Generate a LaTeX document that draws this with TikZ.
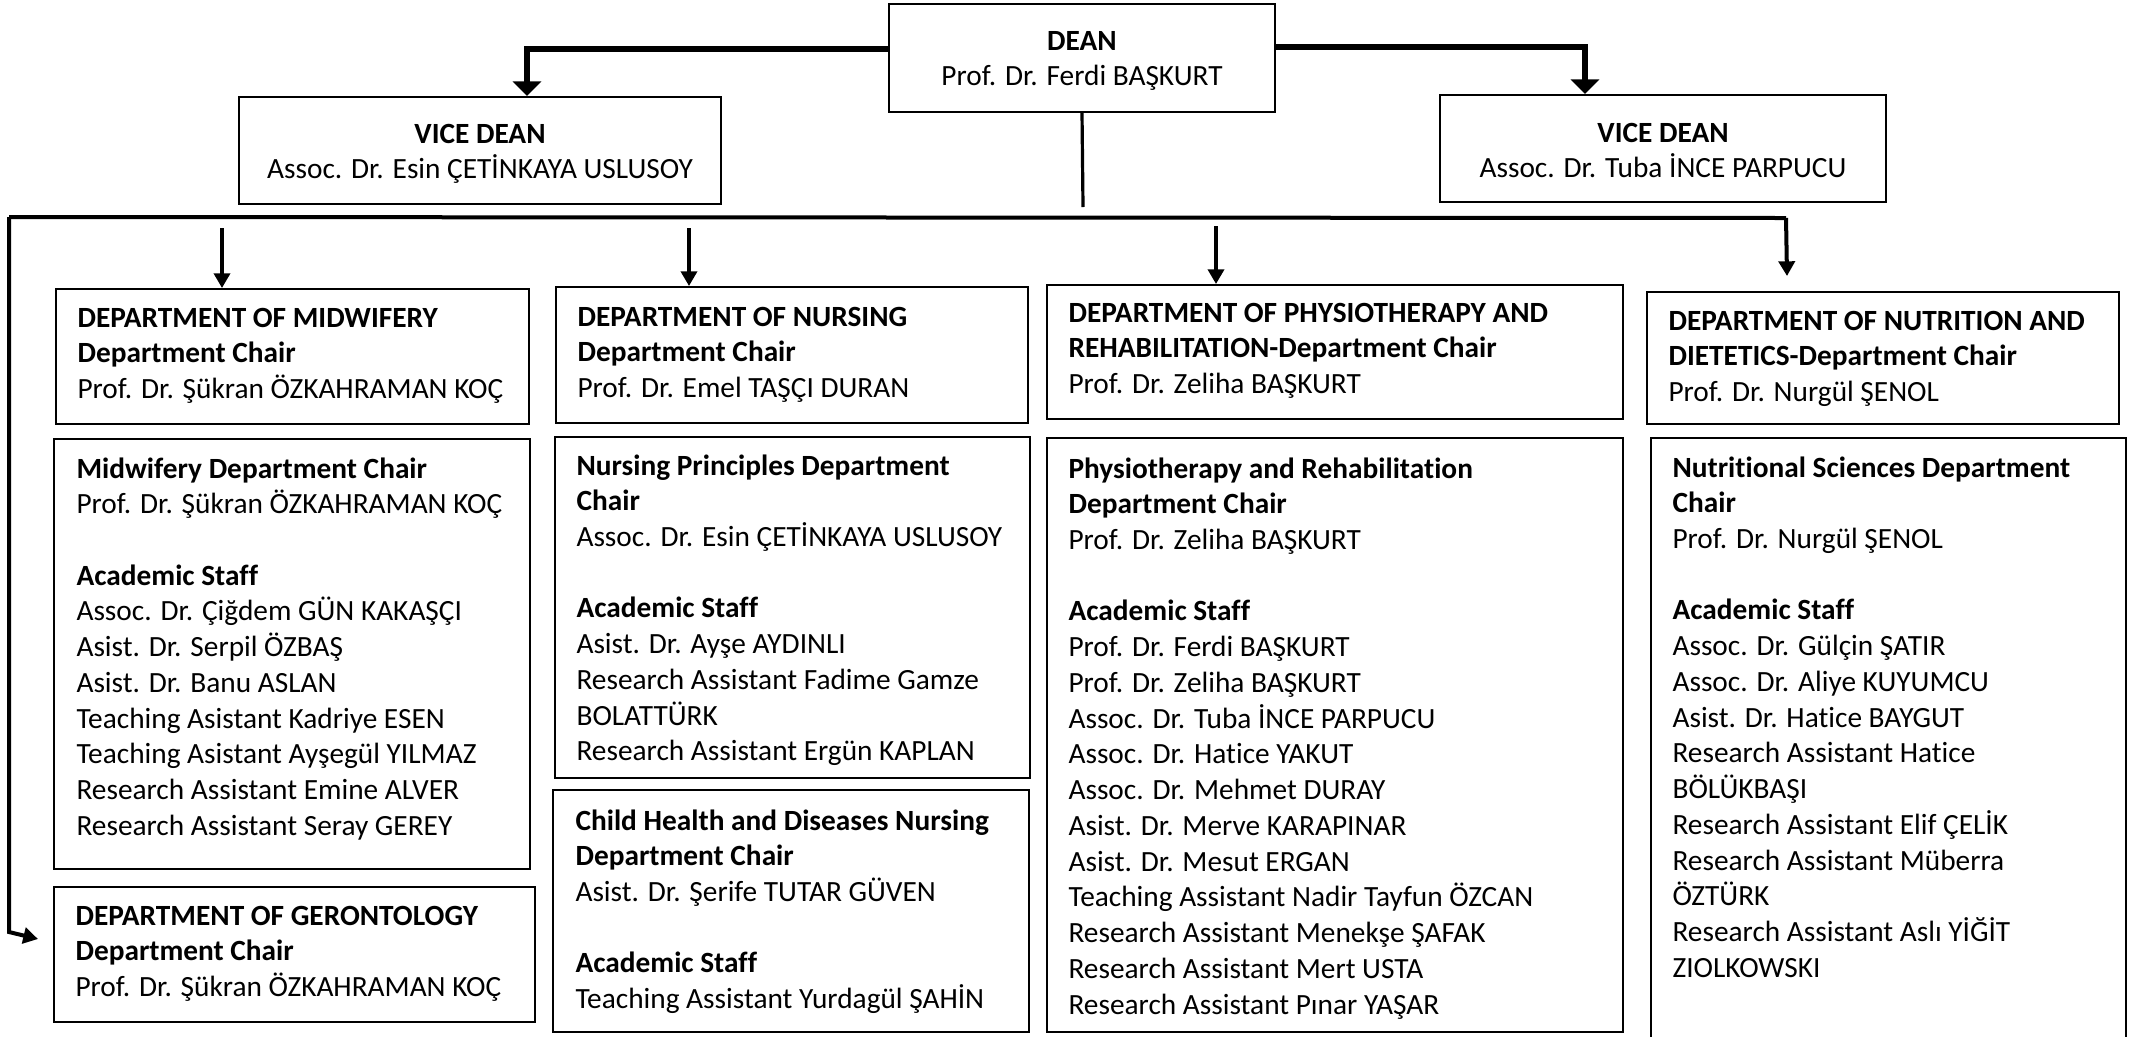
\documentclass[tikz,border=0pt]{standalone}
\usepackage{fontspec}
\setmainfont{Carlito}[Ligatures=NoCommon]
\usetikzlibrary{arrows.meta,fit}
\newcommand{\Lns}[1]{\begin{tabular}[t]{@{}l@{}}#1\end{tabular}}
\newcommand{\CLns}[1]{\begin{tabular}[t]{@{}c@{}}#1\end{tabular}}
\begin{document}
\begin{tikzpicture}[x=0.375pt,y=-0.375pt,
  font=\fontsize{11pt}{13.4pt}\selectfont,
  box/.style={draw, line width=0.75pt, inner sep=0pt},
  txt/.style={anchor=base west, inner sep=0pt},
  ctxt/.style={anchor=base, inner sep=0pt},
  bigarr/.style={line width=2.6pt, -{Triangle[width=10.5pt,length=5.5pt]}},
  smallarr/.style={line width=1.3pt, -{Triangle[width=6pt,length=5.5pt]}},
  busline/.style={line width=1.5pt},
  busarr/.style={line width=1.5pt, -{Triangle[width=6pt,length=5.5pt]}},
]
\fill[white] (0,0) rectangle (2132,1036);
\useasboundingbox (0,0) rectangle (2132,1036);

% top level boxes
\node[box, fit={(889,4) (1275,112)}] (dean) {};
\node[box, fit={(239,97) (721,204)}] (vdl) {};
\node[box, fit={(1440,95) (1886,202)}] (vdr) {};

\node[ctxt] (tdean) at (1082,50) {\CLns{\textbf{DEAN}\\ Prof. Dr. Ferdi BAŞKURT}};
\node[ctxt] (tvdl) at (480,143) {\CLns{\textbf{VICE DEAN}\\ Assoc. Dr. Esin ÇETİNKAYA USLUSOY}};
\node[ctxt] (tvdr) at (1663,142) {\CLns{\textbf{VICE DEAN}\\ Assoc. Dr. Tuba İNCE PARPUCU}};

% department boxes
\node[box, fit={(56,289) (529,424)}] (midd) {};
\node[box, fit={(54,439) (530,869)}] (mids) {};
\node[box, fit={(54,887) (535,1022)}] (gero) {};
\node[box, fit={(556,287) (1028,423)}] (nurd) {};
\node[box, fit={(555,437) (1030,778)}] (nurs) {};
\node[box, fit={(553,790) (1029,1032)}] (chld) {};
\node[box, fit={(1047,285) (1623,419)}] (phyd) {};
\node[box, fit={(1047,438) (1623,1032)}] (phys) {};
\node[box, fit={(1647,292) (2119,424)}] (nutd) {};
\node[box, fit={(1651,438) (2126,1046)}] (nuts) {};

% texts
\node[txt] (tmidd) at (77,327) {\Lns{\textbf{DEPARTMENT OF MIDWIFERY}\\ \textbf{Department Chair}\\ Prof. Dr. Şükran ÖZKAHRAMAN KOÇ}};
\node[txt] (tmids) at (76,478) {\Lns{\textbf{Midwifery Department Chair}\\ Prof. Dr. Şükran ÖZKAHRAMAN KOÇ\\ \\ \textbf{Academic Staff}\\ Assoc. Dr. Çiğdem GÜN KAKAŞÇI\\ Asist. Dr. Serpil ÖZBAŞ\\ Asist. Dr. Banu ASLAN\\ Teaching Asistant Kadriye ESEN\\ Teaching Asistant Ayşegül YILMAZ\\ Research Assistant Emine ALVER\\ Research Assistant Seray GEREY}};
\node[txt] (tgero) at (75,925) {\Lns{\textbf{DEPARTMENT OF GERONTOLOGY}\\ \textbf{Department Chair}\\ Prof. Dr. Şükran ÖZKAHRAMAN KOÇ}};

\node[txt] (tnurd) at (577,326) {\Lns{\textbf{DEPARTMENT OF NURSING}\\ \textbf{Department Chair}\\ Prof. Dr. Emel TAŞÇI DURAN}};
\node[txt] (tnurs) at (576,475) {\Lns{\textbf{Nursing Principles Department}\\ \textbf{Chair}\\ Assoc. Dr. Esin ÇETİNKAYA USLUSOY\\ \\ \textbf{Academic Staff}\\ Asist. Dr. Ayşe AYDINLI\\ Research Assistant Fadime Gamze\\ BOLATTÜRK\\ Research Assistant Ergün KAPLAN}};
\node[txt] (tchld) at (575,830) {\Lns{\textbf{Child Health and Diseases Nursing}\\ \textbf{Department Chair}\\ Asist. Dr. Şerife TUTAR GÜVEN\\ \\ \textbf{Academic Staff}\\ Teaching Assistant Yurdagül ŞAHİN}};

\node[txt] (tphyd) at (1068,322) {\Lns{\textbf{DEPARTMENT OF PHYSIOTHERAPY AND}\\ \textbf{REHABILITATION-Department Chair}\\ Prof. Dr. Zeliha BAŞKURT}};
\node[txt] (tphys) at (1068,478) {\Lns{\textbf{Physiotherapy and Rehabilitation}\\ \textbf{Department Chair}\\ Prof. Dr. Zeliha BAŞKURT\\ \\ \textbf{Academic Staff}\\ Prof. Dr. Ferdi BAŞKURT\\ Prof. Dr. Zeliha BAŞKURT\\ Assoc. Dr. Tuba İNCE PARPUCU\\ Assoc. Dr. Hatice YAKUT\\ Assoc. Dr. Mehmet DURAY\\ Asist. Dr. Merve KARAPINAR\\ Asist. Dr. Mesut ERGAN\\ Teaching Assistant Nadir Tayfun ÖZCAN\\ Research Assistant Menekşe ŞAFAK\\ Research Assistant Mert USTA\\ Research Assistant Pınar YAŞAR}};

\node[txt] (tnutd) at (1668,330) {\Lns{\textbf{DEPARTMENT OF NUTRITION AND}\\ \textbf{DIETETICS-Department Chair}\\ Prof. Dr. Nurgül ŞENOL}};
\node[txt] (tnuts) at (1672,477) {\Lns{\textbf{Nutritional Sciences Department}\\ \textbf{Chair}\\ Prof. Dr. Nurgül ŞENOL\\ \\ \textbf{Academic Staff}\\ Assoc. Dr. Gülçin ŞATIR\\ Assoc. Dr. Aliye KUYUMCU\\ Asist. Dr. Hatice BAYGUT\\ Research Assistant Hatice\\ BÖLÜKBAŞI\\ Research Assistant Elif ÇELİK\\ Research Assistant Müberra\\ ÖZTÜRK\\ Research Assistant Aslı YİĞİT\\ ZIOLKOWSKI}};

% connector helper coordinates
\coordinate (yl) at (0,49);
\coordinate (xl) at (527,0);
\coordinate (yr) at (0,47);
\coordinate (xr) at (1585,0);
\coordinate (dbot) at (1083,207);
\coordinate (busL) at (9,217);
\coordinate (busR) at (1786,218);
\coordinate (nutin) at (1787,276);
\coordinate (busD) at (9,932);
\coordinate (geroin) at (38,939);
\coordinate (s1) at (222,228);
\coordinate (s2) at (689,228);
\coordinate (s3) at (1216,226);

% connectors
\draw[bigarr] (dean.west |- yl) -| (vdl.north -| xl);
\draw[bigarr] (dean.east |- yr) -| (vdr.north -| xr);
\draw[line width=1.2pt] (dean.south) -- (dbot);
\draw[busline] (busL) -- (busR);
\draw[busarr] (busR) -- (nutin);
\draw[busarr] (busL) -- (busD) -- (geroin);
\draw[smallarr] (s1) -- (midd.north -| s1);
\draw[smallarr] (s2) -- (nurd.north -| s2);
\draw[smallarr] (s3) -- (phyd.north -| s3);
\end{tikzpicture}
\end{document}
